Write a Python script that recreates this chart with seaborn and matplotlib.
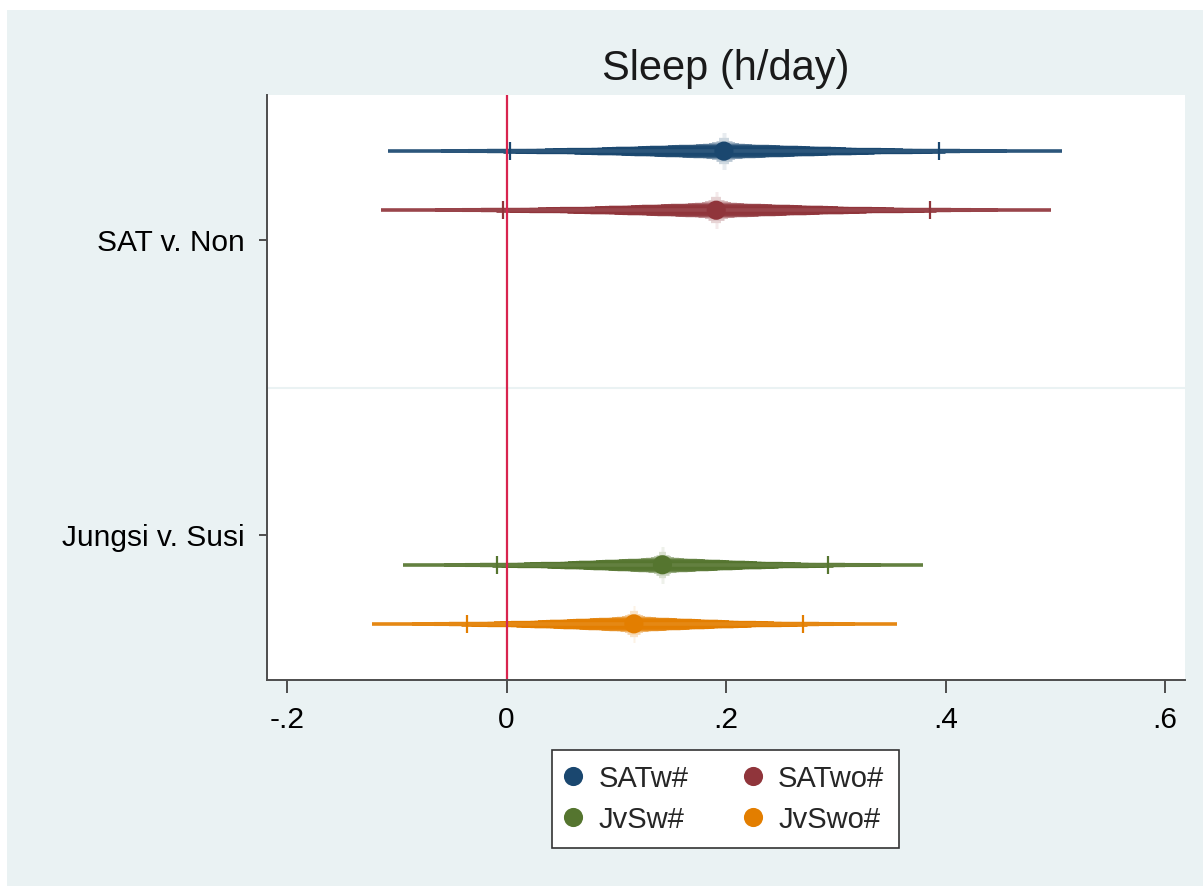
import matplotlib
matplotlib.use("Agg")
from statistics import NormalDist
import numpy as np
import pandas as pd
import seaborn as sns
import matplotlib.pyplot as plt
from matplotlib.colors import to_rgb
from matplotlib.patches import Rectangle

# Coefficients for sleep (h/day)
series = ["SATw#", "SATwo#", "JvSw#", "JvSwo#"]
coef_group = [1, 1, 2, 2]
estimates = [0.198, 0.191, 0.142, 0.116]
ci90_lo = [0.003, -0.003, -0.009, -0.036]
ci90_hi = [0.394, 0.386, 0.293, 0.270]
ci99_lo = [-0.108, -0.114, -0.094, -0.123]
ci99_hi = [0.506, 0.496, 0.379, 0.356]

group_labels = ["SAT v. Non", "Jungsi v. Susi"]
x_ticks = [-0.2, 0, 0.2, 0.4, 0.6]
x_tick_labels = ["-.2", "0", ".2", ".4", ".6"]

# Stata s2color-ish styling
colors = ["#1a476f", "#90353b", "#55752f", "#e37e00"]
offsets = [-0.3, -0.1, 0.1, 0.3]
bg = "#eaf2f3"
axis_col = "#4d4d4d"
PX = 72 / 100  # points per pixel at dpi 100

df = pd.DataFrame(
    {
        "series": series,
        "b": estimates,
        "lo90": ci90_lo,
        "hi90": ci90_hi,
        "lo99": ci99_lo,
        "hi99": ci99_hi,
    }
)
df["y"] = np.array(coef_group) + np.array(offsets)

sns.set_theme(style="white")
plt.rcParams["font.family"] = ["Liberation Sans", "DejaVu Sans"]

fig = plt.figure(figsize=(12.03, 8.86), dpi=100)
fig.patch.set_facecolor("white")
fig.add_artist(
    Rectangle((7 / 1203, 0), 1, 1 - 10 / 886, transform=fig.transFigure,
              facecolor=bg, edgecolor="none", zorder=-10)
)
ax = fig.add_axes([267 / 1203, 1 - 680 / 886, (1185 - 267) / 1203, (680 - 95) / 886])
ax.set_facecolor("white")


def mix(c, t):
    r = np.array(to_rgb(c))
    return tuple(t * r + (1 - t) * np.ones(3))


# smoothed confidence intervals: narrow levels thick and pale, wide levels thin and dark
nd = NormalDist()
z90 = nd.inv_cdf(0.95)
for i, row in df.iterrows():
    se = (row.hi90 - row.lo90) / (2 * z90)
    for level in range(1, 99, 2):
        z = nd.inv_cdf(0.5 + level / 200)
        lw_px = 3.6 + 30 * np.exp(-level / 3) + 12 * (1 - level / 99)
        t = 0.04 + 0.96 * (1 - np.exp(-level / 15))
        ax.hlines(row.y, row.b - z * se, row.b + z * se, color=mix(colors[i], t),
                  lw=lw_px * PX, capstyle="butt", zorder=2)
    ax.hlines(row.y, row.lo99, row.hi99, color=mix(colors[i], 0.92), lw=3.6 * PX,
              capstyle="butt", zorder=2)
    ax.plot([row.lo90, row.hi90], [row.y, row.y], ls="none", marker="|",
            ms=13, mew=1.6, color=colors[i], zorder=3)

ax.axhline(1.5, color=bg, lw=1.5, zorder=1)
ax.axvline(0, color="#d8244e", lw=1.6, zorder=2.5)

sns.scatterplot(data=df, x="b", y="y", hue="series", palette=colors, s=190,
                linewidth=0, ax=ax, zorder=4)

ax.set_xlim(-0.2182, 0.618)
ax.set_ylim(2.49, 0.51)
ax.set_xticks(x_ticks)
ax.set_xticklabels(x_tick_labels)
ax.set_yticks([1, 2])
ax.set_yticklabels(group_labels)
ax.set_xlabel("")
ax.set_ylabel("")

for s in ["top", "right"]:
    ax.spines[s].set_visible(False)
for s in ["left", "bottom"]:
    ax.spines[s].set_color(axis_col)
    ax.spines[s].set_linewidth(1.4)
ax.tick_params(axis="x", direction="out", length=9, width=1.4, color=axis_col,
               pad=10, labelsize=21.5, labelcolor="black", bottom=True)
ax.tick_params(axis="y", direction="out", length=6, width=1.4, color=axis_col,
               pad=10, labelsize=21.5, labelcolor="black", left=True)

fig.text(726 / 1203, 1 - 80 / 886, "Sleep (h/day)", ha="center", va="baseline",
         fontsize=30, color="#1a1a1a")

# legend filled row by row, as in the reference
handles, labels = ax.get_legend_handles_labels()
order = [0, 2, 1, 3]
ax.get_legend().remove()
leg = ax.legend(
    [handles[k] for k in order], [labels[k] for k in order],
    loc="upper center", bbox_to_anchor=(725.5 / 1203, 1 - 750 / 886),
    bbox_transform=fig.transFigure, ncol=2, fontsize=21, borderaxespad=0,
    frameon=True, fancybox=False, framealpha=1, edgecolor="#333333",
    borderpad=0.5, handlelength=0.45, handletextpad=0.63, columnspacing=2.0,
    labelspacing=0.45,
)
leg.get_frame().set_linewidth(1.2)

fig.savefig("out.png", dpi=100, facecolor=fig.get_facecolor())
